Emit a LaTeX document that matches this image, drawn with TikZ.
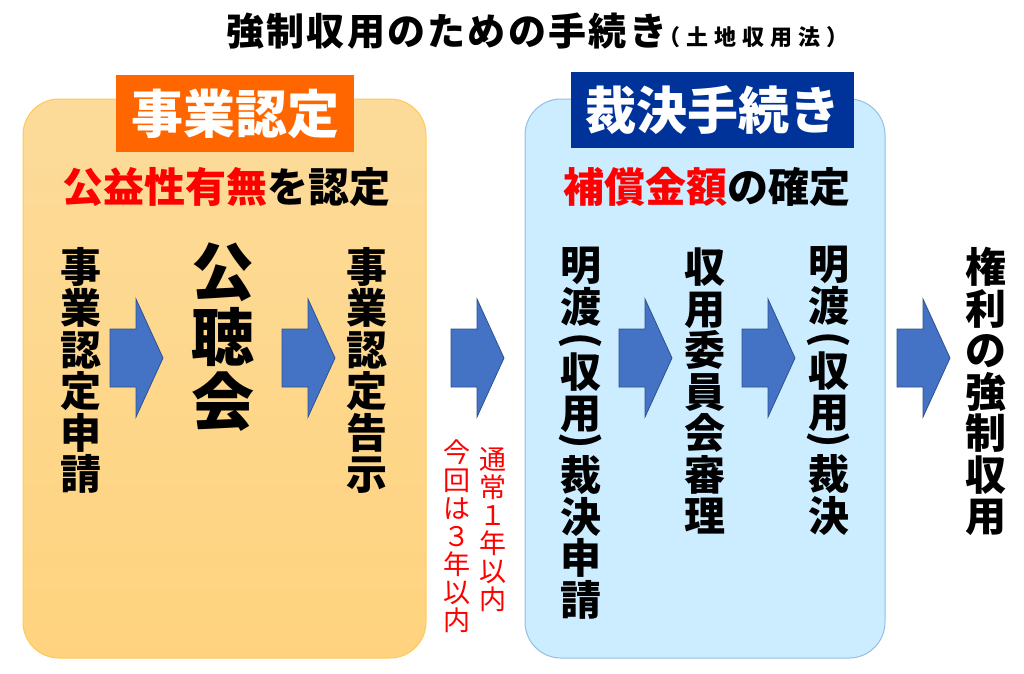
\documentclass[tikz,border=0pt]{standalone}
\usepackage{fontspec}
\setmainfont{Noto Sans CJK JP}
\definecolor{orgT}{RGB}{252,219,154}
\definecolor{orgB}{RGB}{255,211,126}
\definecolor{orgline}{RGB}{255,200,90}
\definecolor{orglabel}{RGB}{255,102,0}
\definecolor{bluefill}{RGB}{204,236,255}
\definecolor{blueline}{RGB}{150,190,228}
\definecolor{bluelabel}{RGB}{0,51,153}
\definecolor{arrfill}{RGB}{68,114,196}
\definecolor{arrline}{RGB}{47,82,143}
\definecolor{redtxt}{RGB}{255,0,0}
\begin{document}
\begin{tikzpicture}[x=1pt,y=-1pt,
  col/.style={inner sep=0pt, align=center, anchor=north, font=\bfseries\fontsize{41}{41.5}\selectfont},
  vparen/.style={inner sep=0pt, rotate=-90, font=\bfseries\fontsize{41}{41}\selectfont},
  redcol/.style={inner sep=0pt, align=center, anchor=north, text=redtxt, font=\fontsize{27}{28}\selectfont},
  bigbox/.style={rounded corners=36pt, line width=1pt, minimum width=403pt, minimum height=559pt, inner sep=0pt},
  labelbox/.style={inner sep=0pt, text=white, font=\bfseries\fontsize{52}{52}\selectfont},
  subtitle/.style={inner sep=0pt, font=\bfseries\fontsize{41}{41}\selectfont},
  barrowstyle/.style={fill=arrfill, draw=arrline, line width=0.8pt},
  barrow/.pic={\path[barrowstyle] (0,-29) -- (26,-29) -- (26,-59) -- (53,0) -- (26,59) -- (26,29) -- (0,29) -- cycle;}
]
\path[fill=white] (0,0) rectangle (1024,673);
\useasboundingbox (0,0) rectangle (1024,673);

% title
\node[anchor=base west, inner sep=0pt] (title) at (226,45)
  {\bfseries\fontsize{38}{38}\selectfont\addfontfeature{LetterSpace=6}強制収用のための手続き\hspace{-9pt}{\fontsize{22}{22}\selectfont\addfontfeature{LetterSpace=28}（土地収用法）}};

% boxes
\node[bigbox, draw=orgline, top color=orgT, bottom color=orgB] (obox) at (224.5,378.5) {};
\node[bigbox, draw=blueline, fill=bluefill, minimum width=360pt] (bbox) at (705,378.5) {};

% labels
\node[labelbox, fill=orglabel, minimum width=238pt, minimum height=77pt] (olab) at (235,113.5) {事業認定};
\node[labelbox, fill=bluelabel, minimum width=283pt, minimum height=76pt, font=\bfseries\fontsize{51}{51}\selectfont] (blab) at (712.5,110) {裁決手続き};

% subtitles
\node[subtitle] (osub) at (226,187) {\textcolor{redtxt}{公益性有無}を認定};
\node[subtitle] (bsub) at (707,187) {\textcolor{redtxt}{補償金額}の確定};

% columns
\node[col] (c1) at (81,247) {事\\業\\認\\定\\申\\請};
\node[col, font=\bfseries\fontsize{63}{65}\selectfont] (c2) at (223,243) {公\\聴\\会};
\node[col] (c3) at (367,247) {事\\業\\認\\定\\告\\示};
\node[redcol] (r1) at (493,447) {通\\常\\１\\年\\以\\内};
\node[redcol] (r2) at (457,440) {今\\回\\は\\３\\年\\以\\内};
\node[col] (c4) at (581,247) {明\\渡\\[23.5pt]収\\用\\[20.5pt]裁\\決\\申\\請};
\node[vparen] (p1) at (581,341) {(};
\node[vparen] (p2) at (581,441) {)};
\node[col] (c5) at (705,248) {収\\用\\委\\員\\会\\審\\理};
\node[col] (c6) at (829,246) {明\\渡\\[23.5pt]収\\用\\[20.5pt]裁\\決};
\node[vparen] (p3) at (829,340) {(};
\node[vparen] (p4) at (829,440) {)};
\node[col] (c7) at (986,247) {権\\利\\の\\強\\制\\収\\用};

% block arrows
\pic (a1) at (110,358) {barrow};
\pic (a2) at (282,358) {barrow};
\pic (a3) at (451,358) {barrow};
\pic (a4) at (619,358) {barrow};
\pic (a5) at (742,358) {barrow};
\pic (a6) at (897,358) {barrow};
\end{tikzpicture}
\end{document}
